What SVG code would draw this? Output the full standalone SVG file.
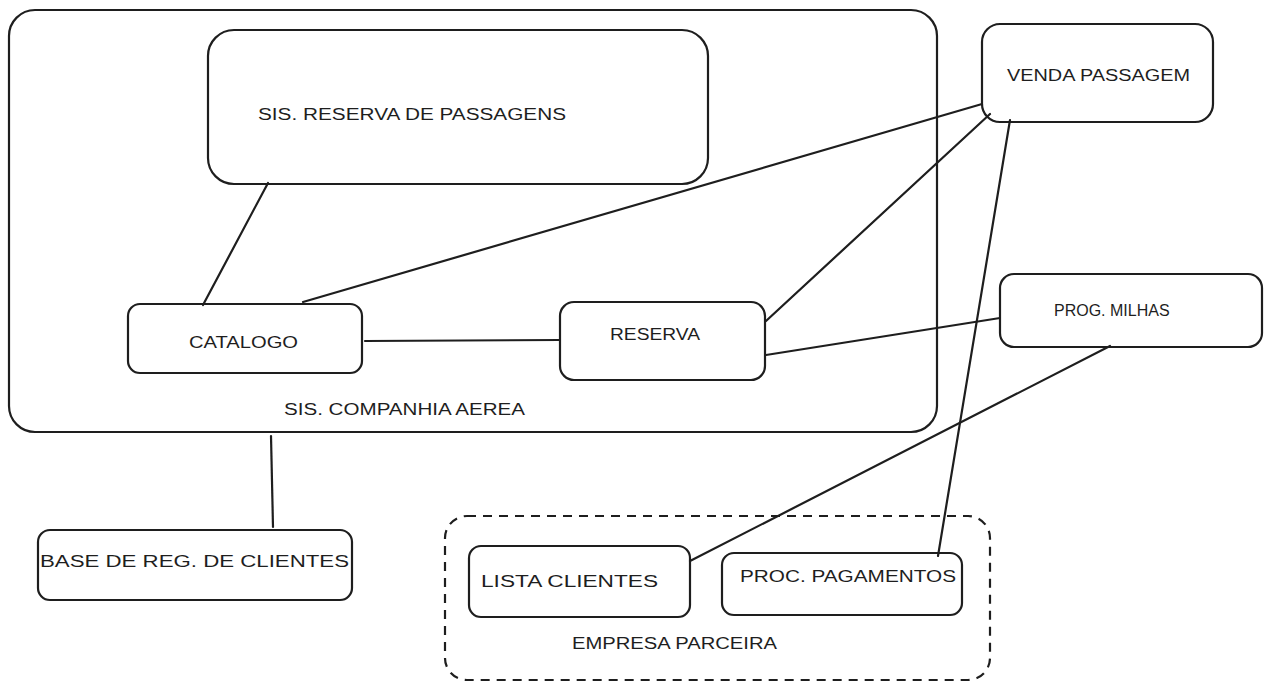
<svg xmlns="http://www.w3.org/2000/svg" width="1271" height="690" viewBox="0 0 1271 690">
<style>
.box{fill:none;stroke:#1e1e1e;stroke-width:2.2}
.dash{fill:none;stroke:#1e1e1e;stroke-width:2.2;stroke-dasharray:9 7}
.lbl{font-family:"Liberation Sans",Arial,sans-serif;font-size:16px;fill:#1e1e1e;dominant-baseline:middle}
.con line{stroke:#1e1e1e;stroke-width:2.2;stroke-linecap:round}
</style>
<rect width="1271" height="690" fill="#ffffff"/>
<g id="companhia">
<rect class="box" x="9" y="10" width="928" height="422" rx="26"/>
<text class="lbl" x="284" y="411" textLength="241" lengthAdjust="spacingAndGlyphs">SIS. COMPANHIA AEREA</text>
</g>
<g id="reserva-passagens">
<rect class="box" x="208" y="30" width="500" height="154" rx="26"/>
<text class="lbl" x="258" y="116" textLength="308" lengthAdjust="spacingAndGlyphs">SIS. RESERVA DE PASSAGENS</text>
</g>
<g id="catalogo">
<rect class="box" x="128" y="304" width="234" height="69" rx="12"/>
<text class="lbl" x="189" y="344" textLength="109" lengthAdjust="spacingAndGlyphs">CATALOGO</text>
</g>
<g id="reserva">
<rect class="box" x="560" y="302" width="205" height="78" rx="14"/>
<text class="lbl" x="610" y="336" textLength="90" lengthAdjust="spacingAndGlyphs">RESERVA</text>
</g>
<g id="venda">
<rect class="box" x="982" y="24" width="231" height="98" rx="18"/>
<text class="lbl" x="1007" y="77" textLength="183" lengthAdjust="spacingAndGlyphs">VENDA PASSAGEM</text>
</g>
<g id="milhas">
<rect class="box" x="1000" y="274" width="262" height="73" rx="14"/>
<text class="lbl" x="1054" y="312">PROG. MILHAS</text>
</g>
<g id="base">
<rect class="box" x="38" y="530" width="314" height="70" rx="12"/>
<text class="lbl" x="40" y="563" textLength="309" lengthAdjust="spacingAndGlyphs">BASE DE REG. DE CLIENTES</text>
</g>
<g id="parceira">
<rect class="dash" x="445" y="516" width="545" height="164" rx="22"/>
<text class="lbl" x="572" y="645" textLength="205" lengthAdjust="spacingAndGlyphs">EMPRESA PARCEIRA</text>
</g>
<g id="lista">
<rect class="box" x="469" y="546" width="221" height="71" rx="12"/>
<text class="lbl" x="481" y="583" textLength="177" lengthAdjust="spacingAndGlyphs">LISTA CLIENTES</text>
</g>
<g id="pagamentos">
<rect class="box" x="722" y="553" width="240" height="62" rx="12"/>
<text class="lbl" x="740" y="578" textLength="216" lengthAdjust="spacingAndGlyphs">PROC. PAGAMENTOS</text>
</g>
<g id="connectors" class="con">
<line x1="268" y1="183" x2="203" y2="305"/>
<line x1="303" y1="302" x2="982" y2="104"/>
<line x1="365" y1="341" x2="560" y2="340"/>
<line x1="766" y1="321" x2="990" y2="114"/>
<line x1="766" y1="355" x2="1000" y2="318"/>
<line x1="1010" y1="120" x2="938" y2="556"/>
<line x1="1110" y1="346" x2="690" y2="561"/>
<line x1="271" y1="436" x2="273" y2="527"/>
</g>
</svg>
